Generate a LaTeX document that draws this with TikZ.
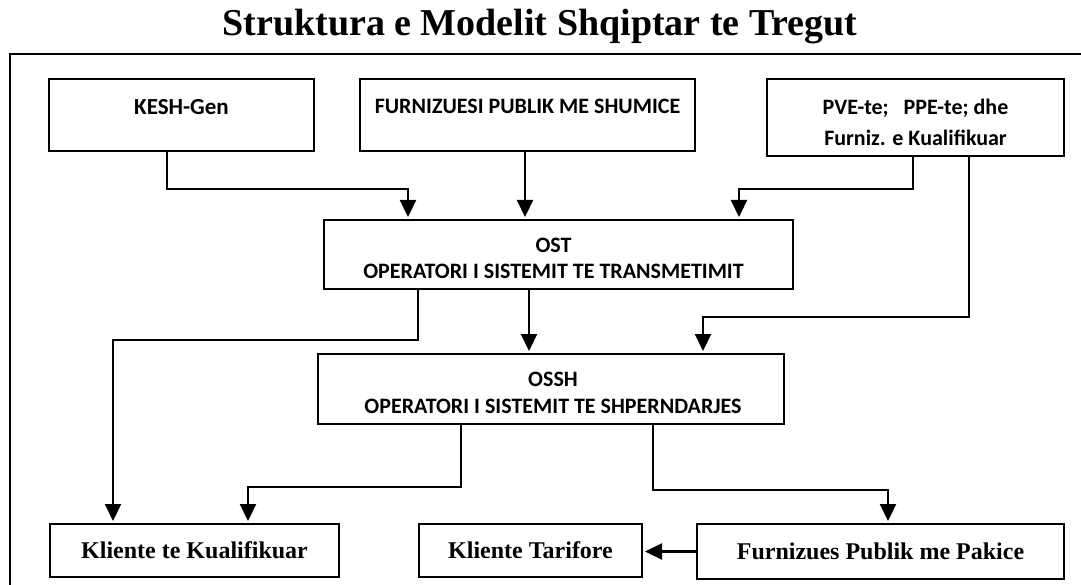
\documentclass[tikz,border=0pt]{standalone}
\usepackage{fontspec}
\setmainfont{Liberation Serif}
\newfontfamily\calib{Carlito}
\usetikzlibrary{arrows.meta}
\begin{document}
\begin{tikzpicture}[x=1pt,y=-1pt,
  box/.style={draw=black, line width=2pt, anchor=north west, inner sep=0pt},
  ctxt/.style={font=\calib\bfseries\fontsize{22}{31}\selectfont, align=center, inner sep=0pt},
  stxt/.style={font=\bfseries\fontsize{24}{28}\selectfont, inner sep=0pt},
  arr/.style={draw=black, line width=2.2pt, -{Triangle[width=16pt,length=17pt]}, shorten >=2pt},
  frame/.style={draw=black, line width=2.5pt}
]
\useasboundingbox (0,0) rectangle (1081,585);

% title and frame
\node[font=\bfseries\fontsize{38}{42}\selectfont, inner sep=0pt] (title) at (540,27) {Struktura e Modelit Shqiptar te Tregut};
\draw[frame] (1083,54) -- (10,54) -- (10,587);

% top row
\node[box, minimum width=265pt, minimum height=72pt] (kesh) at (48,78) {};
\node[ctxt, font=\calib\bfseries\fontsize{23}{31}\selectfont] (keshT) at ([yshift=8pt]kesh.center) {KESH-Gen};
\node[box, minimum width=335pt, minimum height=72pt] (furn) at (359,78) {};
\node[ctxt] (furnT) at ([yshift=9pt]furn.center) {FURNIZUESI PUBLIK ME SHUMICE};
\node[box, minimum width=297pt, minimum height=77pt] (pve) at (766,78) {};
\node[ctxt] (pveT) at ([yshift=-5pt]pve.center) {PVE-te;\ \ \ PPE-te; dhe\\Furniz. e Kualifikuar};

% operators
\node[box, minimum width=469pt, minimum height=69pt] (ost) at (323,219) {};
\node[ctxt, font=\calib\bfseries\fontsize{22}{26}\selectfont] (ostT) at ([xshift=-5pt,yshift=-4pt]ost.center) {OST\\OPERATORI I SISTEMIT TE TRANSMETIMIT};
\node[box, minimum width=466pt, minimum height=70pt] (ossh) at (317,353) {};
\node[ctxt, font=\calib\bfseries\fontsize{22}{27}\selectfont] (osshT) at ([xshift=2pt,yshift=-4pt]ossh.center) {OSSH\\OPERATORI I SISTEMIT TE SHPERNDARJES};

% bottom row
\node[box, minimum width=289pt, minimum height=53pt] (kk) at (49,523) {};
\node[stxt] (kkT) at (kk.center) {Kliente te Kualifikuar};
\node[box, minimum width=223pt, minimum height=53pt] (kt) at (418,523) {};
\node[stxt] (ktT) at (kt.center) {Kliente Tarifore};
\node[box, minimum width=367pt, minimum height=55pt] (fp) at (696,523) {};
\node[stxt] (fpT) at (fp.center) {Furnizues Publik me Pakice};

% connectors
\draw[arr] ([xshift=119pt]kesh.south west) -- ++(0,37) -| ([xshift=85pt]ost.north west);
\draw[arr] ([xshift=166pt]furn.south west) -- ([xshift=202pt]ost.north west);
\draw[arr] ([xshift=147pt]pve.south west) -- ++(0,32) -| ([xshift=416pt]ost.north west);
\draw[arr] ([xshift=203pt]pve.south west) -- ++(0,160) -| ([xshift=386pt]ossh.north west);
\draw[arr] ([xshift=95pt]ost.south west) -- ++(0,50) -| ([xshift=64pt]kk.north west);
\draw[arr] ([xshift=206pt]ost.south west) -- ([xshift=212pt]ossh.north west);
\draw[arr] ([xshift=144pt]ossh.south west) -- ++(0,62) -| ([xshift=199pt]kk.north west);
\draw[arr] ([xshift=336pt]ossh.south west) -- ++(0,65) -| ([xshift=192pt]fp.north west);
\draw[arr] (fp.west) -- (fp.west -| kt.east);
\end{tikzpicture}
\end{document}
